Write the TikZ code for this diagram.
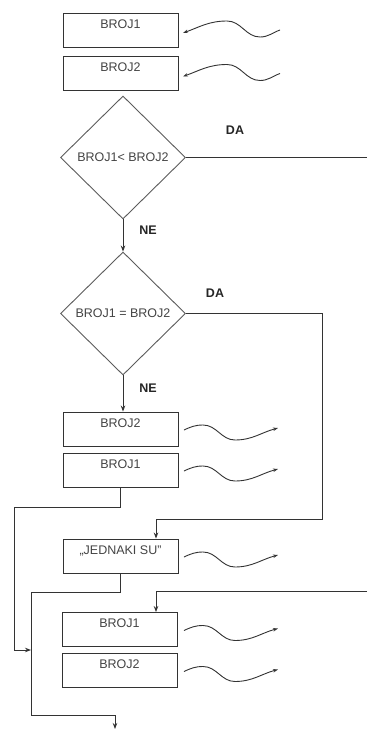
\documentclass[tikz,border=0pt]{standalone}
\usepackage{fontspec}
\setmainfont{Liberation Sans}
\usetikzlibrary{shapes.geometric,arrows.meta,calc}
\definecolor{ink}{HTML}{333333}
\definecolor{txt}{HTML}{444444}
\tikzset{
  box/.style={draw=ink, line width=0.9pt, minimum width=115pt, inner sep=0pt,
    text height=15pt, text depth=19pt, font=\fontsize{12.5}{14}\selectfont, text=txt},
  dec/.style={draw=ink!80, line width=0.9pt, diamond, aspect=1, inner sep=0pt,
    minimum width=125pt, minimum height=123pt, font=\fontsize{12.5}{14}\selectfont, text=txt},
  lbl/.style={font=\bfseries\fontsize{12.5}{14}\selectfont, text=black!85},
  conn/.style={draw=ink, line width=0.9pt},
  arr/.style={conn, -{Stealth[length=6pt,width=4.5pt]}},
  wave/.style={draw=ink, line width=0.9pt, -{Stealth[length=5pt,width=3.5pt]}}
}
\begin{document}
\begin{tikzpicture}[x=1pt,y=-1pt]
\useasboundingbox (0,0) rectangle (367,731);
\fill[white] (0,0) rectangle (367,731);
% boxes
\node[box] (b1) at (120.5,30) {BROJ1};
\node[box] (b2) at (120.5,73.5) {BROJ2};
\node[dec] (d1) at (123,157.5) {BROJ1< BROJ2};
\node[dec] (d2) at (123,313.5) {BROJ1 = BROJ2};
\node[box] (b3) at (120.5,429) {BROJ2};
\node[box] (b4) at (120.5,470) {BROJ1};
\node[box] (jed) at (120.5,556) {„JEDNAKI SU”};
\node[box] (b5) at (119.5,629.5) {BROJ1};
\node[box] (b6) at (119.5,670.5) {BROJ2};
% labels
\node[lbl] (da1) at (235,130) {DA};
\node[lbl] (ne1) at (148,230) {NE};
\node[lbl] (da2) at (215,293) {DA};
\node[lbl] (ne2) at (148,388) {NE};
% free ends
\coordinate (e1) at (367,157.5);
\coordinate (e2) at (367,591);
\coordinate (e3) at (115,729);
\coordinate (j) at (31,650);
% connectors
\draw[conn] (d1.east) -- (e1);
\draw[arr] (d1.south) -- (d2.north);
\draw[arr] (d2.south) -- (d2.south |- b3.north);
\draw[arr] (d2.east) -- (322,313.5) -- (322,519) -- (156,519) -- ($(jed.north)+(35.5,0)$);
\draw[arr] (b4.south) -- ++(0,20) -| (14,650) -- (j);
\draw[arr] (jed.south) -- ++(0,19) -| (31,715) -| (e3);
\draw[arr] (e2) -- (156,591) -- ($(b5.north)+(36.5,0)$);
% input waves (left-pointing)
\foreach \c in {30,73.5}{
  \draw[wave] (280,\c) to[out=200,in=0] (260,\c+7) to[out=180,in=0] (227,\c-9) to[out=180,in=20] (183,\c+3);
}
% output waves (right-pointing)
\foreach \c in {429,470,556,629.5,670.5}{
  \draw[wave] (184,\c+1) to[out=25,in=180] (203,\c-4) to[out=0,in=180] (235,\c+11) to[out=0,in=195] (278,\c-1);
}
\end{tikzpicture}
\end{document}
